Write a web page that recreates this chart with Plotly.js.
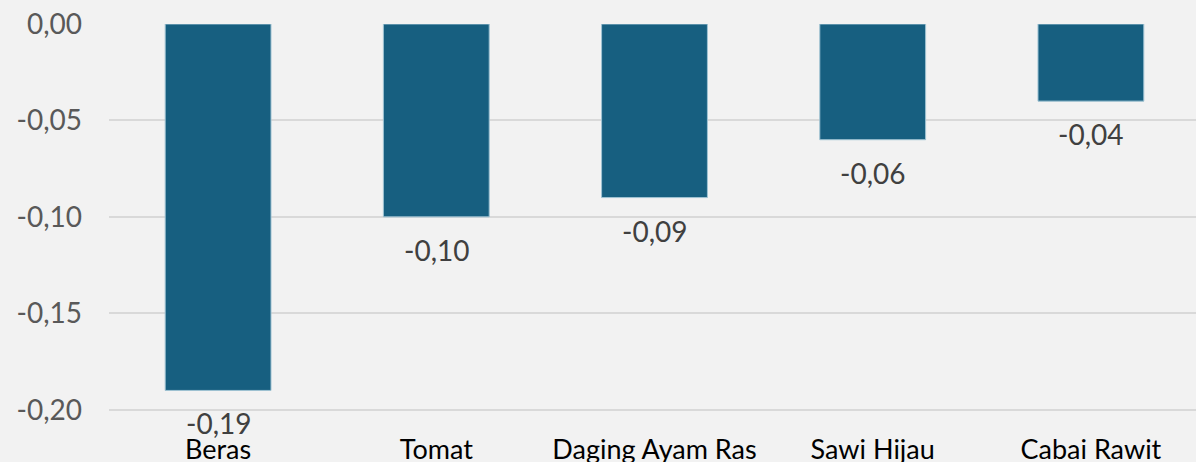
<!DOCTYPE html>
<html><head><meta charset="utf-8">
<script src="https://cdn.plot.ly/plotly-3.0.1.min.js"></script>
<style>html,body{margin:0;padding:0;background:#f2f2f2;overflow:hidden;}#chart{width:1200px;height:462px;}</style>
</head><body><div id="chart"></div>
<script>
var categories = ["Beras", "Tomat", "Daging Ayam Ras", "Sawi Hijau", "Cabai Rawit"];
var values = [-0.19, -0.10, -0.09, -0.06, -0.04];
var yTickVals = [0, -0.05, -0.10, -0.15, -0.20];
var yTickText = ["0,00", "-0,05", "-0,10", "-0,15", "-0,20"];

function fmt(v){ return (v < 0 ? "-" : "") + Math.abs(v).toFixed(2).replace(".", ","); }

var FONT = "Lato, 'Open Sans', sans-serif";

var trace = {
  type: "bar",
  x: categories,
  y: values,
  marker: {color: "#175f80", line: {color: "#9fc3d3", width: 1}},
  width: 0.485,
  hoverinfo: "none"
};

var annotations = categories.map(function(c, i){
  return {
    x: c, y: values[i], xref: "x", yref: "y",
    text: fmt(values[i]), showarrow: false,
    xanchor: "center", yanchor: "top", yshift: -14,
    font: {family: FONT, size: 28, color: "#404040"}
  };
});

var layout = {
  width: 1200, height: 462,
  paper_bgcolor: "#f2f2f2", plot_bgcolor: "#f2f2f2",
  margin: {l: 109, r: 0, t: 24, b: 33, pad: 0},
  showlegend: false,
  font: {family: FONT, size: 27, color: "#595959"},
  annotations: annotations,
  xaxis: {
    range: [-0.5, 4.5],
    showgrid: false, zeroline: false, showline: false,
    ticks: "", tickfont: {family: FONT, size: 27, color: "#000000"},
    ticklabelstandoff: 2,
    automargin: false
  },
  yaxis: {
    range: [-0.21, 0],
    tickvals: yTickVals, ticktext: yTickText,
    showgrid: true, gridcolor: "#d9d9d9", gridwidth: 2,
    zeroline: false, showline: false, ticks: "",
    ticklabelstandoff: 26,
    tickfont: {family: FONT, size: 28, color: "#595959"},
    automargin: false
  }
};

Plotly.newPlot("chart", [trace], layout, {staticPlot: true});
</script></body></html>
